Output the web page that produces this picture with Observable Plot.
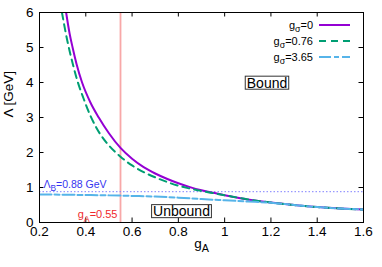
<!DOCTYPE html>
<html><head><meta charset="utf-8">
<script src="https://cdn.jsdelivr.net/npm/d3@7"></script>
<script src="https://cdn.jsdelivr.net/npm/@observablehq/plot@0.6"></script>
<style>
body{margin:0;background:#fff}
svg{font-family:"Liberation Sans",Arial,sans-serif}
</style>
</head><body><div id="chart"></div>
<script>
// gσ = 0
const gA_s0  = [0.315,0.33,0.343,0.36,0.384,0.42,0.456,0.5,0.55,0.6,0.65,0.7,0.75,0.8,0.85,0.9,0.95,1.0,1.1,1.2,1.3,1.4,1.5,1.6];
const lam_s0 = [6.0,5.4,5.0,4.53,4.0,3.43,3.0,2.55,2.13,1.82,1.58,1.40,1.25,1.12,1.01,0.92,0.85,0.78,0.66,0.57,0.50,0.44,0.40,0.37];
// gσ = 0.76
const gA_s1  = [0.297,0.32,0.345,0.366,0.39,0.42,0.46,0.5,0.55,0.6,0.65,0.7,0.75,0.8,0.85,0.9,0.95,1.0,1.1,1.2,1.3,1.4,1.5,1.6];
const lam_s1 = [6.0,5.2,4.5,4.0,3.55,3.05,2.55,2.2,1.88,1.63,1.44,1.29,1.16,1.05,0.97,0.90,0.84,0.78,0.66,0.57,0.50,0.44,0.40,0.37];
// gσ = 3.65
const gA_s2  = [0.2,0.3,0.4,0.5,0.6,0.7,0.8,0.9,1.0,1.1,1.2,1.3,1.4,1.5,1.6];
const lam_s2 = [0.80,0.795,0.785,0.775,0.76,0.74,0.71,0.67,0.635,0.60,0.565,0.50,0.44,0.40,0.37];

const legendLabels = ["g_{σ}=0","g_{σ}=0.76","g_{σ}=3.65"];
const colors = ["#9400d3","#009e73","#56b4e9"];
const dashes = [null,"7,5","12,3,5,3"];
const xTicks = [0.2,0.4,0.6,0.8,1,1.2,1.4,1.6];
const yTicks = [0,1,2,3,4,5,6];
const lambdaB = 0.88, gAcrit = 0.55;
const labelLambdaB = "Λ_{B}=0.88 GeV";
const labelGA = "g_{A}=0.55";
const regionLabels = [{x:1.183,y:3.97,t:"Bound"},{x:0.8136,y:0.30,t:"Unbound"}];

const W=382,H=267,mL=39,mR=19,mT=12,mB=45;
const plotW=W-mL-mR, plotH=H-mT-mB;
const toRows = (xs,ys)=>xs.map((x,i)=>({x,y:ys[i]}));
const series = [toRows(gA_s0,lam_s0),toRows(gA_s1,lam_s1),toRows(gA_s2,lam_s2)];
const tk = 4.5;
const fsTick = 13.5;

const chart = Plot.plot({
  width:W,height:H,marginLeft:mL,marginRight:mR,marginTop:mT,marginBottom:mB,
  x:{domain:[0.2,1.6]}, y:{domain:[0,6]},
  style:{fontFamily:"'Liberation Sans',Arial,sans-serif",fontSize:"13px",background:"#fff",color:"#000"},
  marks:[
    Plot.ruleX([gAcrit],{stroke:"#f8a8a8",strokeWidth:1.8}),
    Plot.ruleY([lambdaB],{stroke:"#8080ff",strokeDasharray:"1.5,2",strokeWidth:1}),
    ...series.map((s,i)=>Plot.line(s,{x:"x",y:"y",stroke:colors[i],strokeWidth:2,strokeDasharray:dashes[i],curve:"monotone-x",clip:true})),
    Plot.tickX(xTicks,{x:d=>d,insetTop:plotH-tk,stroke:"#000"}),
    Plot.tickX(xTicks,{x:d=>d,insetBottom:plotH-tk,stroke:"#000"}),
    Plot.tickY(yTicks,{y:d=>d,insetRight:plotW-tk,stroke:"#000"}),
    Plot.tickY(yTicks,{y:d=>d,insetLeft:plotW-tk,stroke:"#000"}),
    Plot.axisX(xTicks,{tickSize:0,tickPadding:4,tickFormat:d=>String(d),fontSize:fsTick,label:null}),
    Plot.axisY(yTicks,{tickSize:0,tickPadding:6,tickFormat:d=>String(d),fontSize:fsTick,label:null}),
    Plot.frame({stroke:"#000",strokeWidth:1}),
    Plot.text([labelLambdaB],{x:0.2,y:lambdaB,text:d=>d,textAnchor:"start",dx:4,dy:-7,fill:"#3535f0",fontSize:10.5}),
    Plot.text([labelGA],{x:gAcrit,y:0,text:d=>d,textAnchor:"end",dx:-3,dy:-8,fill:"#f0282d",fontSize:11}),
    Plot.text(regionLabels,{x:"x",y:"y",text:"t",fontSize:14,fill:"#000"}),
    Plot.text(["g_{A}"],{frameAnchor:"bottom",dy:25,text:d=>d,fontSize:fsTick}),
    Plot.text(["Λ [GeV]"],{frameAnchor:"left",dx:-31,rotate:-90,text:d=>d,fontSize:fsTick})
  ]
});
document.getElementById("chart").append(chart);

const svg = d3.select(chart);
// legend
const xr = chart.scale("x").range, yr = chart.scale("y").range;
const frameRight = Math.max(...xr), frameTop = Math.min(...yr);
const lg = svg.append("g").attr("font-size",11);
legendLabels.forEach((t,i)=>{
  const y = frameTop + 13 + i*16;
  lg.append("text").attr("x",frameRight-50).attr("y",y).attr("dy","0.35em").attr("text-anchor","end").text(t);
  lg.append("line").attr("x1",frameRight-44).attr("x2",frameRight-13).attr("y1",y).attr("y2",y)
    .attr("stroke",colors[i]).attr("stroke-width",2).attr("stroke-dasharray",dashes[i]);
});
// subscripts
svg.selectAll("text").each(function(){
  const t = this.textContent;
  if (!t.includes("_{")) return;
  const parts = t.split(/(_\{[^}]*\})/).filter(p=>p);
  this.textContent = "";
  const el = d3.select(this);
  let shifted = false;
  parts.forEach(p=>{
    const ts = el.append("tspan");
    if (p.startsWith("_{")) { ts.text(p.slice(2,-1)).attr("font-size","80%").attr("dy","0.4em"); shifted = true; }
    else { ts.text(p); if (shifted) { ts.attr("dy","-0.32em"); shifted=false; } }
  });
});
// boxes around region labels
const boxed = new Set(regionLabels.map(d=>d.t));
svg.selectAll("text").filter(function(){ return boxed.has(this.textContent); }).each(function(){
  const b = this.getBBox();
  const fs = 14;
  const base = b.y + 0.905*fs;
  const rect = document.createElementNS("http://www.w3.org/2000/svg","rect");
  this.parentNode.insertBefore(rect, this);
  const tr = this.getAttribute("transform");
  d3.select(rect)
    .attr("transform", tr)
    .attr("x",b.x-1.5).attr("width",b.width+3)
    .attr("y",base-0.716*fs-1.5).attr("height",0.716*fs+3)
    .attr("fill","#fff").attr("stroke","#333").attr("stroke-width",1);
});
</script>
</body></html>
